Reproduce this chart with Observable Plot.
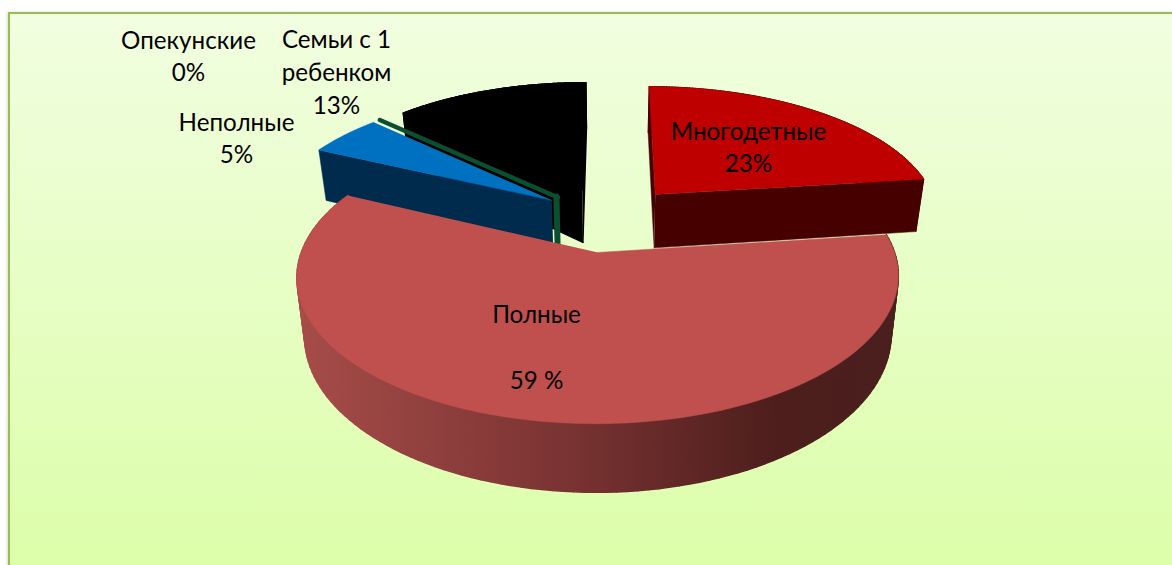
<!DOCTYPE html>
<html>
<head>
<meta charset="utf-8">
<script src="https://cdn.jsdelivr.net/npm/d3@7"></script>
<script src="https://cdn.jsdelivr.net/npm/@observablehq/plot@0.6"></script>
<style>
html,body{margin:0;padding:0;background:#fff;overflow:hidden;width:1172px;height:565px}
#panel{position:absolute;left:8px;top:12px;width:1170px;height:570px;box-sizing:border-box;border:2px solid #9bbb59;
background:linear-gradient(180deg,#f1fee0 0%,#dcfea8 100%);box-shadow:-1px 0 3px rgba(0,0,0,.15)}
#chart{position:absolute;left:0;top:0}
#chart svg{background:transparent;display:block}
</style>
</head>
<body>
<div id="panel"></div>
<div id="chart"></div>
<svg width="0" height="0" style="position:absolute">
<defs>
<linearGradient id="wallShade" gradientUnits="userSpaceOnUse" x1="300" x2="895" y1="0" y2="0">
<stop offset="0" stop-color="#a64c49"/>
<stop offset="0.45" stop-color="#793332"/>
<stop offset="0.8" stop-color="#4d1e1c"/>
<stop offset="1" stop-color="#4a1f1e"/>
</linearGradient>
</defs>
</svg>
<script>
// Chart data
const categories = ["Многодетные", "Полные", "Неполные", "Опекунские", "Семьи с 1\nребенком"];
const shares = [23, 59, 5, 0, 13];
const percentLabels = ["23%", "\n59 %", "5%", "0%", "13%"];

// Styling of the slices
const faceColors = ["#bf0000", "#c0504d", "#0070c0", "#0a5030", "#000000"];
const wallColors = ["#470000", "url(#wallShade)", "#002b4d", "#0a5030", "#000000"];
const explosion = 0.25;

// Layout of the labels, in pixels (centre of the block)
const labelCentres = [[748, 145], [536, 345], [236, 136], [188, 54], [336, 70]];

// Perspective view of the pie
const view = {cx: 609, cy: 218, rx: 285, ry: 132, depth: 6.3, height: 55, bottomShrink: 0.975};
function project(x, back, low) {
  const w = view.depth / (view.depth + back);
  const k = low ? view.bottomShrink : 1;
  return {
    px: view.cx + view.rx * x * w * k,
    py: view.cy - view.ry * back * w + (low ? view.height * w : 0)
  };
}

const arcs = d3.pie().sort(null).value(d => d).startAngle(0).endAngle(2 * Math.PI)(shares);

function slice(i) {
  const a = arcs[i];
  const mid = (a.startAngle + a.endAngle) / 2;
  const ex = explosion * Math.sin(mid), ey = explosion * Math.cos(mid);
  const apex = low => project(ex, ey, low);
  const rimPt = (t, low) => project(ex + Math.sin(t), ey + Math.cos(t), low);
  const steps = d3.range(0, 121).map(k => a.startAngle + (a.endAngle - a.startAngle) * k / 120);
  return {
    face: [apex(false), ...steps.map(t => rimPt(t, false))],
    // one closed quad per step, so the silhouette runs straight from the top rim to the bottom rim
    rimWall: d3.pairs(steps).flatMap(([t0, t1], k) =>
      [rimPt(t0, false), rimPt(t1, false), rimPt(t1, true), rimPt(t0, true), rimPt(t0, false)].map(p => ({...p, quad: k}))),
    startWall: [apex(false), rimPt(a.startAngle, false), rimPt(a.startAngle, true), apex(true)],
    endWall: [apex(false), rimPt(a.endAngle, false), rimPt(a.endAngle, true), apex(true)]
  };
}

const polygon = (points, color, strokeWidth = 0.5) => Plot.line(points, {x: "px", y: "py", z: "quad", fill: color, stroke: color, strokeWidth, curve: "linear"});

const red = slice(0), main = slice(1), blue = slice(2), thin = slice(3), dark = slice(4);

const marks = [
  // red slice
  polygon(red.startWall, wallColors[0]),
  polygon(red.endWall, wallColors[0]),
  polygon(red.rimWall, wallColors[0], 1),
  polygon(red.face, faceColors[0]),
  // black slice
  polygon(dark.startWall, wallColors[4], 1.5),
  polygon(dark.endWall, wallColors[4], 1.5),
  polygon(dark.rimWall, wallColors[4], 1.5),
  polygon(dark.face, faceColors[4], 1.5),
  // the 0% slice: no area, so only its edges
  Plot.line(thin.face.slice(0, 2), {x: "px", y: "py", stroke: faceColors[3], strokeWidth: 4.5, dx: -1, dy: 1}),
  Plot.line([thin.startWall[0], thin.startWall[3]], {x: "px", y: "py", stroke: wallColors[3], strokeWidth: 6, dx: -2.5}),
  // blue slice
  polygon(blue.startWall, wallColors[2]),
  polygon(blue.face, faceColors[2]),
  // main slice
  polygon(main.rimWall, wallColors[1], 1.5),
  polygon(main.face, faceColors[1]),
  // labels
  Plot.text(categories.map((c, i) => ({
    text: c + "\n" + percentLabels[i],
    x: labelCentres[i][0],
    y: labelCentres[i][1]
  })), {
    x: "x", y: "y", text: "text",
    fontSize: 24.2, fontFamily: "Lato, 'Open Sans', sans-serif",
    lineHeight: 1.36, fill: "#000", textAnchor: "middle", frameAnchor: "middle"
  })
];

const plot = Plot.plot({
  width: 1172, height: 565,
  margin: 0,
  x: {type: "linear", domain: [0, 1172], range: [0, 1172], axis: null},
  y: {type: "linear", domain: [0, 565], range: [0, 565], axis: null},
  style: {background: "transparent", overflow: "hidden"},
  marks
});
document.getElementById("chart").appendChild(plot);
</script>
</body>
</html>
